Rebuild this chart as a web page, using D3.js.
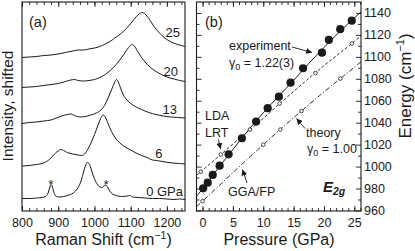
<!DOCTYPE html>
<html><head><meta charset="utf-8">
<script src="https://cdn.jsdelivr.net/npm/d3@7"></script>
<style>
body{margin:0;background:#fff}
svg{display:block;font-family:"Liberation Sans",Arial,Helvetica,sans-serif;fill:#1a1a1a}
</style>
</head><body><svg id="c" width="415" height="251"></svg>
<script>
// ---------- DATA: panel (a) Raman spectra [shift cm^-1, intensity arb. (shifted)] ----------
const spec0 = [[800,12.5],[820,12.5],[840,13],[855,13.5],[865,14.5],[872,18],[877,24],[880,26.5],[883,25],[887,20],[892,15.5],[900,14],[915,14.5],[930,16],[945,19],[955,23.5],[963,30],[970,39],[976,46],[980,48.5],[985,47.5],[990,43],[997,35],[1005,28.5],[1013,24.5],[1020,23.5],[1026,25],[1031,26],[1036,24],[1042,20],[1050,17],[1060,15.5],[1075,14.5],[1090,15],[1098,15.5],[1105,14],[1120,13.5],[1140,13],[1160,12.5],[1180,12.5],[1200,12],[1220,11.5],[1235,12],[1250,11.5]];
const spec6 = [[800,45],[820,45.5],[840,46.5],[855,47.5],[868,49.5],[880,53],[890,57],[900,60],[908,61.5],[915,60.5],[925,58.5],[940,57],[955,56],[965,55.5],[975,58],[985,64],[995,72],[1005,81],[1013,89],[1020,94.5],[1025,96],[1030,94],[1038,87],[1047,79.5],[1058,73],[1070,68],[1085,64],[1100,61],[1115,58],[1130,55.5],[1145,53.5],[1160,51],[1172,50.5],[1180,50],[1195,49],[1215,48],[1235,47.5],[1250,47]];
const spec13 = [[800,87.5],[820,88.5],[840,89],[860,90],[880,91],[895,93],[910,95],[925,96.5],[935,97],[945,95.5],[960,94],[975,94.5],[990,96],[1005,98],[1018,101],[1030,107],[1040,115],[1048,122],[1055,128],[1061,131.5],[1066,129],[1072,123],[1080,116],[1090,111],[1100,107.5],[1115,104],[1130,101.5],[1150,98.5],[1170,96.5],[1190,95],[1210,94],[1230,93.5],[1250,93]];
const spec20 = [[800,123.5],[820,124],[840,124.5],[860,125.5],[880,126.5],[900,127.5],[920,129.5],[935,131],[945,131.5],[955,130.5],[970,130],[985,130.5],[1000,131.5],[1015,133.5],[1030,136.5],[1045,141],[1060,146.5],[1072,152],[1082,157],[1090,161.5],[1098,165],[1104,166.5],[1110,165],[1118,160.5],[1128,154.5],[1140,149],[1155,143.5],[1170,139.5],[1185,136.5],[1200,134],[1220,132],[1235,130.5],[1250,129.5]];
const spec25 = [[800,153.5],[820,154],[840,154.5],[860,155.5],[880,156],[900,157],[920,158.5],[940,160],[955,161],[970,161],[985,162],[1000,163],[1015,164.5],[1030,167],[1045,170],[1060,174],[1075,178],[1088,182.5],[1100,187.5],[1110,192],[1120,196],[1128,198],[1133,198.5],[1140,197],[1150,192.5],[1160,187],[1172,181],[1185,176],[1200,171.5],[1215,168.5],[1230,166.5],[1250,164.5]];
const spectra = [spec0, spec6, spec13, spec20, spec25];
const specLabels = ["0 GPa","6","13","20","25"];
const starShifts = [880, 1032];
const xTicksA = [800, 900, 1000, 1100, 1200];

// ---------- DATA: panel (b) E2g mode vs pressure ----------
const expP = [0.1,0.85,1.67,2.81,4.29,6.48,8.82,10.73,12.58,14.5,16.56,19.67,20.8,22.68,24.58];
const expE = [980.2,985.3,992.4,1000.8,1011.2,1025.8,1041,1053.2,1063.7,1076.5,1089.6,1103.8,1115.4,1125.2,1133];
const fitP = [-1,0,2.5,5,7.5,10,12.5,15,17.5,20,22.5,25,26.1];
const fitE = [973,979.5,998,1015.5,1033,1049,1064,1078.5,1094,1108.5,1122.5,1135.5,1141];
const ldaP = [-1,0,5,10,15,20,25,26.1];
const ldaE = [992,996.7,1020.5,1044,1068.5,1092,1114,1119];
const ldaPtsP = [-0.3,3.0,7.8,12.7,18.6,24.6];
const ldaPtsE = [995.3,1011,1033.7,1057.5,1085.2,1112.2];
const ggaP = [-1,0,5,10,15,20,25,26.1];
const ggaE = [963.5,968.5,994.5,1020,1044.5,1068,1090.5,1095.5];
const ggaPtsP = [0,10,12.8,16.3,22.7];
const ggaPtsE = [968.5,1020,1033.7,1050.6,1080.2];
const xTicksB = [0,5,10,15,20,25];
const yTicksB = [960,980,1000,1020,1040,1060,1080,1100,1120,1140];

// ---------- DRAW ----------
const svg = d3.select("#c");
const ink = "#1a1a1a";
const xa = d3.scaleLinear().domain([800,1250]).range([22,185]);
const ya = d3.scaleLinear().domain([0,209]).range([211,2]);
const xb = d3.scaleLinear().domain([-1,26.1]).range([196.5,361]);
const yb = d3.scaleLinear().domain([959.5,1150]).range([211,2]);

const defs = svg.append("defs");
defs.append("marker").attr("id","ah").attr("viewBox","0 0 10 10").attr("refX",10).attr("refY",5)
  .attr("markerWidth",6).attr("markerHeight",6).attr("markerUnits","userSpaceOnUse").attr("orient","auto")
  .append("path").attr("d","M0,0L10,5L0,10z").attr("fill",ink);

function axes(g, x, y, major, minor, fmt){
  g.append("g").attr("transform",`translate(0,${y.range()[0]})`)
    .call(d3.axisBottom(x).tickValues(minor).tickSize(-3).tickFormat(""))
    .call(s=>s.select(".domain").remove());
  g.append("g").attr("transform",`translate(0,${y.range()[0]})`)
    .call(d3.axisBottom(x).tickValues(major).tickSize(-5).tickPadding(7).tickFormat(fmt))
    .call(s=>s.select(".domain").remove())
    .call(s=>s.selectAll("text").attr("font-size",12.5).attr("font-family","Liberation Sans, Arial").attr("fill",ink));
  g.append("g").attr("transform",`translate(0,${y.range()[1]})`)
    .call(d3.axisTop(x).tickValues(minor).tickSize(-3).tickFormat(""))
    .call(s=>s.select(".domain").remove());
  g.append("g").attr("transform",`translate(0,${y.range()[1]})`)
    .call(d3.axisTop(x).tickValues(major).tickSize(-5).tickFormat(""))
    .call(s=>s.select(".domain").remove());
  g.selectAll(".tick line").attr("stroke",ink).attr("stroke-width",0.9);
  g.append("rect").attr("x",x.range()[0]).attr("y",y.range()[1])
    .attr("width",x.range()[1]-x.range()[0]).attr("height",y.range()[0]-y.range()[1])
    .attr("fill","none").attr("stroke",ink).attr("stroke-width",1.1);
}

// ----- panel (a)
const ga = svg.append("g");
axes(ga, xa, ya, xTicksA, d3.range(800,1251,20), d3.format("d"));
const lineA = d3.line().x(d=>xa(d[0])).y(d=>ya(d[1])).curve(d3.curveMonotoneX);
ga.selectAll("path.spec").data(spectra).join("path").attr("class","spec")
  .attr("d",lineA).attr("fill","none").attr("stroke",ink).attr("stroke-width",1);
const labPos = [[183,196],[162.5,157.5],[177,114],[178,75.5],[180,37]];
ga.selectAll("text.sl").data(specLabels).join("text").attr("class","sl")
  .attr("x",(d,i)=>labPos[i][0]).attr("y",(d,i)=>labPos[i][1])
  .attr("text-anchor","end").attr("font-size",13).attr("fill",ink).text(d=>d);
ga.selectAll("text.star").data(starShifts).join("text").attr("class","star")
  .attr("x",d=>xa(d)).attr("y",188.5).attr("text-anchor","middle").attr("font-size",13.5).attr("fill",ink).text("*");
ga.append("text").attr("x",29).attr("y",27).attr("font-size",14.5).attr("fill",ink).text("(a)");
ga.append("text").attr("transform","translate(13,106) rotate(-90)").attr("text-anchor","middle")
  .attr("font-size",15.5).attr("fill",ink).text("Intensity, shifted");
const tA = ga.append("text").attr("x",103.5).attr("y",245).attr("text-anchor","middle").attr("font-size",16).attr("fill",ink);
tA.append("tspan").text("Raman Shift (cm");
tA.append("tspan").attr("dy",-6).attr("font-size",10.5).text("−1");
tA.append("tspan").attr("dy",6).text(")");

// ----- panel (b)
const gb = svg.append("g");
axes(gb, xb, yb, xTicksB, d3.range(0,27,1), d3.format("d"));
[["L",xb.range()[0]],["R",xb.range()[1]]].forEach(([side,xpos])=>{
  const mk = side==="L" ? d3.axisLeft : d3.axisRight;
  gb.append("g").attr("transform",`translate(${xpos},0)`)
    .call(mk(yb).tickValues(d3.range(970,1150,20)).tickSize(-3).tickFormat(""))
    .call(s=>s.select(".domain").remove());
  const ax = gb.append("g").attr("transform",`translate(${xpos},0)`)
    .call(mk(yb).tickValues(yTicksB).tickSize(-5).tickPadding(3).tickFormat(side==="R"?d3.format("d"):""))
    .call(s=>s.select(".domain").remove());
  ax.selectAll("text").attr("font-size",12.5).attr("font-family","Liberation Sans, Arial").attr("fill",ink);
});
gb.selectAll(".tick line").attr("stroke",ink).attr("stroke-width",0.9);

defs.append("clipPath").attr("id","cb").append("rect")
  .attr("x",xb.range()[0]).attr("y",yb.range()[1]).attr("width",xb.range()[1]-xb.range()[0]).attr("height",yb.range()[0]-yb.range()[1]);
const plot = gb.append("g").attr("clip-path","url(#cb)");
const lineB = d3.line().x(d=>xb(d[0])).y(d=>yb(d[1])).curve(d3.curveMonotoneX);
plot.append("path").attr("d",lineB(ggaP.map((p,i)=>[p,ggaE[i]]))).attr("fill","none").attr("stroke",ink)
  .attr("stroke-width",0.9).attr("stroke-dasharray","5,2,1.2,2");
plot.append("path").attr("d",lineB(ldaP.map((p,i)=>[p,ldaE[i]]))).attr("fill","none").attr("stroke",ink)
  .attr("stroke-width",0.9).attr("stroke-dasharray","3,2");
plot.append("path").attr("d",lineB(fitP.map((p,i)=>[p,fitE[i]]))).attr("fill","none").attr("stroke",ink)
  .attr("stroke-width",1);
plot.selectAll("circle.gga").data(ggaPtsP.map((p,i)=>[p,ggaPtsE[i]])).join("circle").attr("class","gga")
  .attr("cx",d=>xb(d[0])).attr("cy",d=>yb(d[1])).attr("r",1.8).attr("fill","#fff").attr("stroke",ink).attr("stroke-width",0.8);
plot.selectAll("circle.lda").data(ldaPtsP.map((p,i)=>[p,ldaPtsE[i]])).join("circle").attr("class","lda")
  .attr("cx",d=>xb(d[0])).attr("cy",d=>yb(d[1])).attr("r",1.8).attr("fill","#fff").attr("stroke",ink).attr("stroke-width",0.8);
plot.selectAll("circle.exp").data(expP.map((p,i)=>[p,expE[i]])).join("circle").attr("class","exp")
  .attr("cx",d=>xb(d[0])).attr("cy",d=>yb(d[1])).attr("r",4.1).attr("fill",ink);

function txt(x,y,s,size){ return gb.append("text").attr("x",x).attr("y",y).attr("font-size",size||12.5).attr("fill",ink).text(s); }
function gamma(x,y,val){
  const t = gb.append("text").attr("x",x).attr("y",y).attr("font-size",12.5).attr("fill",ink);
  t.append("tspan").text("γ");
  t.append("tspan").attr("dy",2.5).attr("font-size",9).text("0");
  t.append("tspan").attr("dy",-2.5).text(" = "+val);
}
function arrow(x1,y1,x2,y2){
  gb.append("line").attr("x1",x1).attr("y1",y1).attr("x2",x2).attr("y2",y2)
    .attr("stroke",ink).attr("stroke-width",0.9).attr("marker-end","url(#ah)");
}
txt(205,27,"(b)",14.5);
txt(229,50,"experiment");
gamma(229,67,"1.22(3)");
arrow(292,47,312,52.5);
txt(205,120,"LDA");
txt(205,137,"LRT");
arrow(218.5,139.5,220.5,149);
txt(306,137,"theory");
gamma(307,153,"1.00");
arrow(305,128.5,296.5,118.5);
txt(228,196,"GGA/FP");
arrow(247,183,242.5,169.5);
const e2g = gb.append("text").attr("x",323).attr("y",192).attr("font-size",15).attr("font-weight","bold")
  .attr("font-style","italic").attr("fill",ink);
e2g.append("tspan").text("E");
e2g.append("tspan").attr("dy",3).attr("font-size",10.5).text("2g");

gb.append("text").attr("x",279).attr("y",245).attr("text-anchor","middle").attr("font-size",16).attr("fill",ink).text("Pressure (GPa)");
const tE = gb.append("text").attr("transform","translate(410.5,86) rotate(-90)").attr("text-anchor","middle").attr("font-size",17).attr("fill",ink);
tE.append("tspan").text("Energy (cm");
tE.append("tspan").attr("dy",-6.5).attr("font-size",11).text("−1");
tE.append("tspan").attr("dy",6.5).text(")");
</script>
</body></html>
